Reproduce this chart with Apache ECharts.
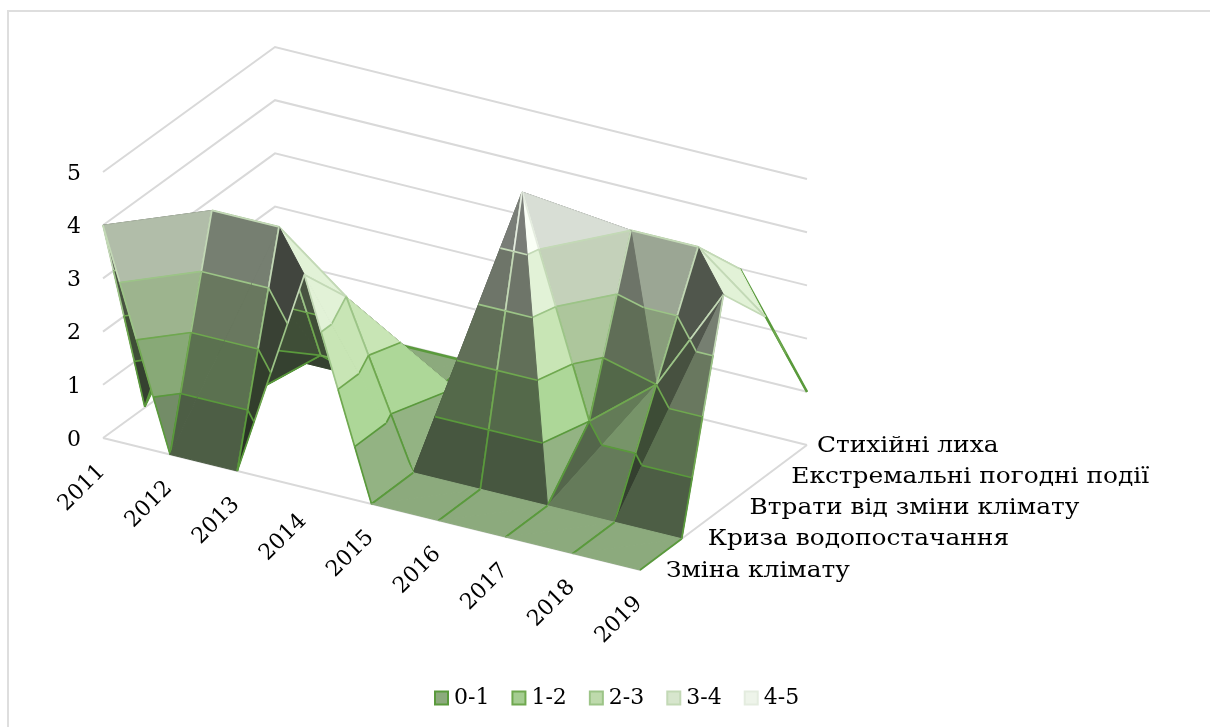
<!DOCTYPE html>
<html>
<head>
<meta charset="utf-8">
<title>surface</title>
<script src="https://cdn.jsdelivr.net/npm/echarts@6/dist/echarts.min.js"></script>
<style>
html,body{margin:0;padding:0;background:#fff;}
#main{width:1210px;height:727px;}
</style>
</head>
<body>
<div id="main"></div>
<script>
var years = ['2011','2012','2013','2014','2015','2016','2017','2018','2019'];
var depthNames = ['Зміна клімату','Криза водопостачання','Втрати від зміни клімату','Екстремальні погодні події','Стихійні лиха'];
var bands = ['0-1','1-2','2-3','3-4','4-5'];
var valueTicks = [0,1,2,3,4,5];

// значення читались з картинки, заднi ряди частково закритi
var zminaKlimatu = [4,0,0,4,0,0,0,0,0];
var kryzaVody    = [0,4,4,3,0,0,0,0,0];
var vtraty       = [1,0,1,1,1,5,1,2,4];
var ekstremalni  = [1,0,0,0,0,1,4,4,3];
var stykhiyni    = [1,0,0,0,0,1,2,3,1];
var rows = [zminaKlimatu,kryzaVody,vtraty,ekstremalni,stykhiyni];

var bandFill = [[140,170,125],[165,205,145],[190,218,172],[215,230,205],[238,244,234]];
var bandLine = ['#5a9a3c','#6fa84f','#9cc487','#c3d9b6','#e4ecdf'];

var FONT = '"DejaVu Serif"';
// косий зсув проекцii: крок по роках вниз i крок по глибинi
var SHEAR_Y = 16.5, DEPTH_X = 41.75, DEPTH_Y = -31.25;

function project(api,i,j,z){
    var p = api.coord([i,z]);
    return [p[0]+j*DEPTH_X, p[1]+i*SHEAR_Y+j*DEPTH_Y];
}

function makeTriangles(){
    var list = [];
    for(var j=rows.length-2;j>=0;j--){
        for(var i=0;i<years.length-1;i++){
            var a=[i,j,rows[j][i]], b=[i+1,j,rows[j][i+1]], c=[i+1,j+1,rows[j+1][i+1]], d=[i,j+1,rows[j+1][i]];
            if(a[2]+c[2]>=b[2]+d[2]){
                list.push({v:[a,c,d],k:['diag','grid','grid']});
                list.push({v:[a,b,c],k:['grid','grid','diag']});
            }else{
                list.push({v:[b,c,d],k:['grid','grid','diag']});
                list.push({v:[a,b,d],k:['grid','diag','grid']});
            }
        }
    }
    return list;
}
var triangles = makeTriangles();

function clipLevel(poly,level,above,cutKind){
    var out = [];
    function inside(p){return above ? p[2]>=level : p[2]<=level;}
    for(var n=0;n<poly.length;n++){
        var a=poly[n], b=poly[(n+1)%poly.length];
        var ia=inside(a.p), ib=inside(b.p);
        if(ia){out.push({p:a.p,k:a.k});}
        if(ia!==ib){
            var t=(level-a.p[2])/(b.p[2]-a.p[2]);
            var q=[a.p[0]+t*(b.p[0]-a.p[0]),a.p[1]+t*(b.p[1]-a.p[1]),level];
            if(ia){out.push({p:q,k:cutKind});}
            else{out.push({p:q,k:a.k});}
        }
    }
    return out;
}

function shade(t){
    var v=t.v;
    var ux=v[1][0]-v[0][0],uy=v[1][1]-v[0][1],uz=v[1][2]-v[0][2];
    var wx=v[2][0]-v[0][0],wy=v[2][1]-v[0][1],wz=v[2][2]-v[0][2];
    var nx=uy*wz-uz*wy,ny=uz*wx-ux*wz,nz=ux*wy-uy*wx;
    if(nz<0){nx=-nx;ny=-ny;nz=-nz;}
    var len=Math.sqrt(nx*nx+ny*ny+nz*nz);
    nx/=len;ny/=len;nz/=len;
    var br=0.07+0.93*nz;
    if(nx>0){br+=0.8*nx+(ny<0?-0.05:0.1)*ny;}
    else{br+=0.275*nx+(ny<0?-0.263:0.1)*ny;}
    return Math.max(0.3,Math.min(1.05,br));
}

function renderSurface(params,api){
    var t=triangles[api.value(0)];
    var s0=project(api,t.v[0][0],t.v[0][1],t.v[0][2]);
    var s1=project(api,t.v[1][0],t.v[1][1],t.v[1][2]);
    var s2=project(api,t.v[2][0],t.v[2][1],t.v[2][2]);
    var area=(s1[0]-s0[0])*(s2[1]-s0[1])-(s1[1]-s0[1])*(s2[0]-s0[0]);
    var br=area>0?0.38:shade(t);
    var backRow=rows.length-1;
    var kids=[];
    for(var b=bands.length-1;b>=0;b--){
        var poly=[];
        for(var n=0;n<3;n++){poly.push({p:t.v[n],k:t.k[n]});}
        poly=clipLevel(poly,b,true,'low');
        if(poly.length<3){continue;}
        poly=clipLevel(poly,b+1,false,'top');
        if(poly.length<3){continue;}
        var pts=[];
        for(n=0;n<poly.length;n++){pts.push(project(api,poly[n].p[0],poly[n].p[1],poly[n].p[2]));}
        var sum=0;
        for(n=0;n<pts.length;n++){
            var m=(n+1)%pts.length;
            sum+=pts[n][0]*pts[m][1]-pts[m][0]*pts[n][1];
        }
        if(Math.abs(sum)<0.5){continue;}
        var c=bandFill[b];
        var fill='rgb('+Math.min(255,Math.round(c[0]*br))+','+Math.min(255,Math.round(c[1]*br))+','+Math.min(255,Math.round(c[2]*br))+')';
        kids.push({type:'polygon',shape:{points:pts},style:{fill:fill,stroke:fill,lineWidth:1}});
        for(n=0;n<poly.length;n++){
            if(poly[n].k==='grid'||poly[n].k==='top'){
                var e=(n+1)%poly.length, p=poly[n].p, q=poly[e].p;
                // ряди, що лежать на пiдлозi, без лiнii
                if(p[2]===0&&q[2]===0&&p[1]===q[1]&&p[1]<backRow){continue;}
                var onBack=poly[n].k==='grid'&&p[1]===backRow&&q[1]===backRow&&b<3;
                kids.push({type:'line',shape:{x1:pts[n][0],y1:pts[n][1],x2:pts[e][0],y2:pts[e][1]},
                    style:{stroke:onBack?bandLine[0]:bandLine[b],lineWidth:onBack?2.5:1.7}});
            }
        }
    }
    return {type:'group',children:kids};
}

function renderWalls(params,api){
    var lastJ=depthNames.length-1, lastI=years.length-1;
    var z=api.value(0);
    var f=project(api,0,0,z), bl=project(api,0,lastJ,z), br=project(api,lastI,lastJ,z);
    bl[0]+=5; // задний кут трохи зсунутий перспективою
    var kids=[{type:'polyline',shape:{points:[f,bl,br]},style:{fill:'none',stroke:'#d9d9d9',lineWidth:2}}];
    if(z===0){
        var fr=project(api,lastI,0,0);
        kids.push({type:'polyline',shape:{points:[f,fr,br]},style:{fill:'none',stroke:'#d9d9d9',lineWidth:2}});
    }
    return {type:'group',children:kids};
}

function renderYears(params,api){
    var i=api.value(0);
    var p=project(api,i,0,0);
    return {type:'text',x:p[0]-21,y:p[1]+50,rotation:Math.PI/4,style:{text:years[i],fill:'#000',font:'22px '+FONT,align:'center',verticalAlign:'middle'}};
}

function renderDepth(params,api){
    var j=api.value(0);
    var p=project(api,years.length-1,j,0);
    return {type:'text',x:p[0]+(j===depthNames.length-1?10:26),y:p[1]+1,scaleX:1.13,style:{text:depthNames[j],fill:'#000',font:'22px '+FONT,align:'left',verticalAlign:'middle'}};
}

function indexList(arr){
    return arr.map(function(x,n){return [n];});
}

var legendSeries = bands.map(function(name,b){
    return {name:name,type:'custom',data:[],renderItem:function(){return {type:'group',children:[]};},
        itemStyle:{color:'rgb('+bandFill[b].join(',')+')',borderColor:bandLine[b],borderWidth:2}};
});

var chart = echarts.init(document.getElementById('main'),null,{renderer:'canvas'});
chart.setOption({
    animation:false,
    backgroundColor:'#fff',
    graphic:[{type:'polyline',silent:true,shape:{points:[[8,727],[8,11],[1210,11]]},style:{fill:'none',stroke:'#dedede',lineWidth:2},z:-1}],
    grid:{left:103,top:172,width:537,height:266},
    xAxis:{type:'value',min:0,max:years.length-1,show:false},
    yAxis:{type:'value',min:valueTicks[0],max:valueTicks[valueTicks.length-1],interval:1,
        axisLine:{show:false},axisTick:{show:false},splitLine:{show:false},
        axisLabel:{margin:22,color:'#000',fontFamily:FONT,fontSize:22,verticalAlign:'top',lineHeight:4}},
    legend:{top:682,left:429,itemWidth:13,itemHeight:13,itemGap:22,icon:'rect',
        textStyle:{color:'#000',fontFamily:FONT,fontSize:22,padding:[0,0,0,1]},
        data:bands},
    series:[
        {type:'custom',renderItem:renderWalls,data:valueTicks.map(function(v){return [v];}),silent:true,clip:false,z:1},
        {type:'custom',renderItem:renderSurface,data:indexList(triangles),silent:true,clip:false,z:2},
        {type:'custom',renderItem:renderYears,data:indexList(years),silent:true,clip:false,z:3},
        {type:'custom',renderItem:renderDepth,data:indexList(depthNames),silent:true,clip:false,z:3}
    ].concat(legendSeries)
});
</script>
</body>
</html>
